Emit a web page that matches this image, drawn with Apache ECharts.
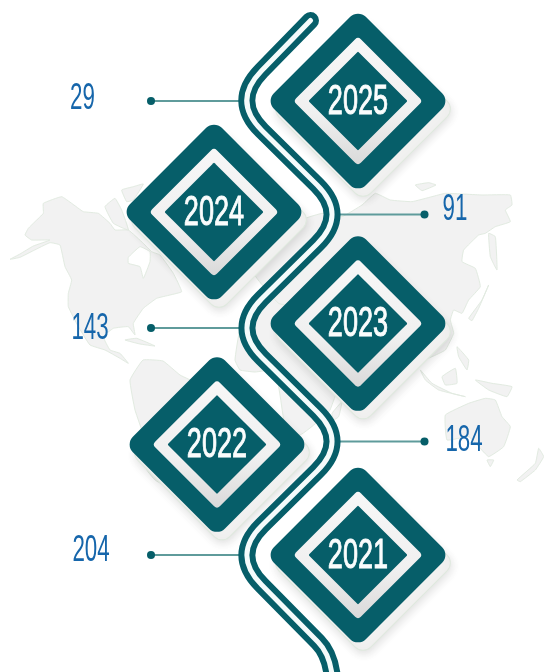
<!DOCTYPE html>
<html><head><meta charset="utf-8">
<style>html,body{margin:0;padding:0;background:#fff}#c{width:544px;height:672px}</style>
<script src="https://cdn.jsdelivr.net/npm/echarts@6/dist/echarts.min.js"></script>
</head><body><div id="c"></div>
<script>
const years = ['2025','2024','2023','2022','2021'];
const counts = [29, 91, 143, 184, 204];

const TEAL = '#065e69', BLUE = '#1666ab', LINE = '#5f9b9b';
const FONT = '"Liberation Sans",sans-serif';
// Layout of the infographic, per row (axis units of the hidden x axis / nudges on the band centre)
const diamondX = [358, 214, 358, 217, 358];
const diamondNudge = [0, -2.5, -4.5, 3, 0];
const dotX = [151, 424.5, 151, 424.5, 151];
const pathEdgeX = [242, 336, 242, 336, 242];
const labelX = [82.5, 455, 90, 464, 91];
const labelNudge = [-2, -4, 1, 0, -4];
const serpentineX = [232, 347, 232, 347, 232];

// Backdrop world map outlines (decorative), page pixels
const z2 = p => p.map(q => [q[0] / 3, 180 + q[1] / 3]);
const z3 = p => p.map(q => [272 + q[0] / 3, 170 + q[1] / 3]);
const mapShapes = [
  z2([[30,238],[60,222],[100,198],[150,180],[95,180],[75,165],[85,145],[105,125],[130,100],[130,70],[185,50],[215,70],[250,95],[295,100],[330,130],[345,150],[385,150],[430,190],[455,215],[480,225],[520,280],[545,335],[510,345],[470,355],[430,385],[400,430],[405,465],[385,440],[340,445],[310,470],[330,510],[360,520],[385,550],[360,535],[315,510],[270,495],[235,440],[205,380],[205,340],[215,300],[195,260],[180,195],[150,188],[100,212],[60,232]]),
  z2([[315,80],[345,55],[365,90],[385,150],[340,130]]),
  z2([[365,30],[400,20],[430,12],[400,60],[380,65]]),
  z2([[375,480],[410,475],[465,498],[420,492]]),
  [[130,380],[143,360],[163,361],[180,375],[200,385],[230,420],[215,450],[165,485],[155,480],[147,470],[145,440],[135,410]],
  [[235,360],[240,330],[265,300],[300,270],[340,300],[330,340],[345,365],[330,410],[320,420],[300,435],[285,425],[280,395],[275,370],[255,372],[240,370]],
  z3([[270,105],[310,70],[355,90],[420,95],[480,80],[520,70],[630,75],[715,75],[720,105],[700,120],[715,155],[670,170],[640,190],[620,195],[575,240],[570,275],[610,295],[625,350],[590,390],[570,430],[545,420],[535,450],[545,490],[520,540],[480,560],[450,570],[400,500],[300,560],[200,540],[120,420],[20,400],[-60,300],[60,160],[150,130],[210,140]]),
  z3([[430,45],[470,38],[492,45],[450,62]]),
  z3([[650,190],[670,200],[675,300],[655,260]]),
  z3([[590,445],[630,390],[650,345],[620,415],[600,452]]),
  z3([[445,600],[480,640],[540,670],[580,680],[500,660],[460,630]]),
  z3([[510,620],[550,595],[555,640],[520,645]]),
  z3([[555,530],[590,570],[585,600],[560,560]]),
  z3([[610,630],[660,640],[720,650],[705,680],[650,660]]),
  z3([[520,735],[590,700],[640,685],[670,690],[690,740],[715,770],[695,830],[650,860],[620,830],[590,800],[525,810]]),
  z3([[645,870],[665,870],[655,890]]),
  z3([[735,930],[790,880],[800,835],[815,860],[790,900],[745,935]]),
  z3([[180,730],[210,695],[200,740],[185,750]])
];
const mapHoles = [
  z2([[385,232],[420,200],[450,215],[450,245],[430,295],[420,260],[385,250]])
];

function square(cx, cy, side, r, style) {
  return {type:'rect', x:cx, y:cy, rotation:Math.PI/4,
    shape:{x:-side/2, y:-side/2, width:side, height:side, r:r}, style:style};
}
const mapElements = mapShapes.map(s => ({type:'polygon', shape:{points:s, smooth:0.1},
    style:{fill:'#f2f2f2', stroke:'#e2ebe1', lineWidth:1}, silent:true}))
  .concat(mapHoles.map(s => ({type:'polygon', shape:{points:s, smooth:0.1},
    style:{fill:'#fff', stroke:'#e2ebe1', lineWidth:1}, silent:true})));

const rows = years.map((y, i) => [y, counts[i]]);

const option = {
  animation:false,
  backgroundColor:'#fff',
  grid:{left:0, width:544, top:44.25, height:567.5},
  xAxis:{type:'value', min:0, max:544, show:false},
  yAxis:{type:'category', data:years, inverse:true, show:false},
  graphic:{elements:mapElements},
  series:[
    { // soft pads behind the diamonds
      type:'custom', z:2, silent:true, clip:false, data:rows,
      renderItem(p, api){
        const i = p.dataIndex, c = api.coord([diamondX[i], i]);
        return square(c[0]+5, c[1]+diamondNudge[i]+8, 130, 11,
          {fill:'#f1f1f0', stroke:'#dfe9de', lineWidth:1, shadowBlur:10, shadowColor:'rgba(0,0,0,0.12)', shadowOffsetX:1, shadowOffsetY:3});
      }
    },
    { // connector and dot with the count
      type:'custom', z:3, silent:true, clip:false, data:rows,
      renderItem(p, api){
        const i = p.dataIndex;
        const a = api.coord([dotX[i], i]), b = api.coord([pathEdgeX[i], i]);
        const t = api.coord([labelX[i], i]);
        return {type:'group', children:[
          {type:'line', shape:{x1:a[0], y1:a[1], x2:b[0], y2:b[1]}, style:{stroke:LINE, lineWidth:2}},
          {type:'circle', shape:{cx:a[0], cy:a[1], r:4}, style:{fill:TEAL}},
          {type:'text', x:t[0], y:t[1]+labelNudge[i], scaleX:0.62,
            style:{text:String(api.value(1)), x:0, y:0, align:'center', verticalAlign:'middle',
                   font:'400 36px '+FONT, fill:BLUE}}
        ]};
      }
    },
    { // serpentine through the rows
      type:'custom', z:4, silent:true, clip:false, data:[years[0]],
      renderItem(p, api){
        const t = 42;
        const pts = years.map((y, i) => api.coord([serpentineX[i], i]));
        const start = [310.5, 20.5];
        let d = 'M'+start[0]+' '+start[1];
        pts.forEach((q, i) => {
          const prev = i ? pts[i-1] : start;
          const next = i < pts.length-1 ? pts[i+1] : [333, 657];
          const lp = Math.hypot(prev[0]-q[0], prev[1]-q[1]), ln = Math.hypot(next[0]-q[0], next[1]-q[1]);
          d += ' L'+(q[0]+(prev[0]-q[0])*t/lp)+' '+(q[1]+(prev[1]-q[1])*t/lp);
          d += ' Q'+q[0]+' '+q[1]+' '+(q[0]+(next[0]-q[0])*t/ln)+' '+(q[1]+(next[1]-q[1])*t/ln);
        });
        d += ' L318 642 Q333 657 333 690';
        const stroke = (w, col) => ({type:'path', shape:{pathData:d, layout:'none'} ,
          style:{fill:null, stroke:col, lineWidth:w, lineCap:'round', lineJoin:'round'}});
        return {type:'group', children:[stroke(17, TEAL), stroke(5, '#f4fbfb')]};
      }
    },
    { // the year diamonds
      type:'custom', z:5, silent:true, clip:false, data:rows,
      renderItem(p, api){
        const i = p.dataIndex, c = api.coord([diamondX[i], i]);
        const cx = c[0], cy = c[1]+diamondNudge[i];
        return {type:'group', children:[
          square(cx, cy, 130, 11, {fill:TEAL}),
          square(cx, cy, 91.5, 4, {fill:{type:'linear', x:1, y:0, x2:0, y2:1, colorStops:[
            {offset:0, color:'#f7f7f7'},{offset:0.6, color:'#f0f0f0'},{offset:1, color:'#d9d9d9'}]}}),
          square(cx, cy, 70, 1, {fill:TEAL}),
          {type:'text', x:cx, y:cy+1, scaleX:0.63,
            style:{text:years[i], x:0, y:0, align:'center', verticalAlign:'middle',
                   font:'400 43px '+FONT, fill:'#fafdfd', stroke:'#fafdfd', lineWidth:1}}
        ]};
      }
    }
  ]
};
const chart = echarts.init(document.getElementById('c'), null, {renderer:'canvas'});
chart.setOption(option);
</script></body></html>
